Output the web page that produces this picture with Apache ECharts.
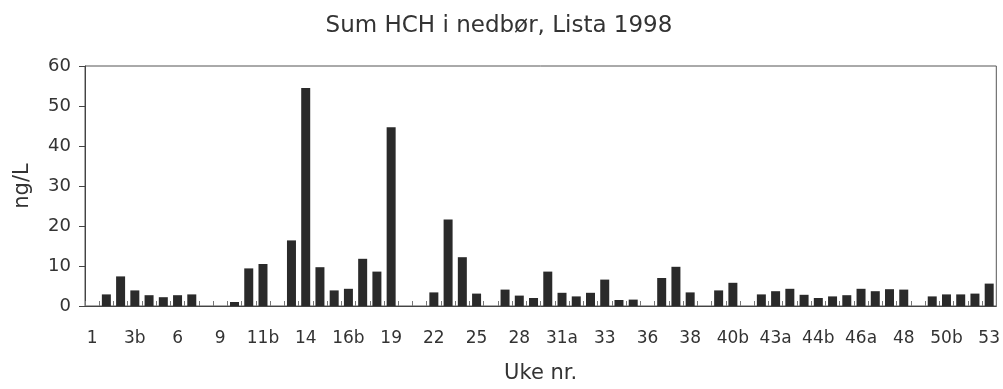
<!DOCTYPE html>
<html>
<head>
<meta charset="utf-8">
<script src="https://cdn.jsdelivr.net/npm/echarts@6/dist/echarts.min.js"></script>
<style>
html,body{margin:0;padding:0;background:#fff;}
#chart{width:1003px;height:389px;}
</style>
</head>
<body>
<div id="chart"></div>
<script>
const titleText = 'Sum HCH i nedbør, Lista 1998';
const yAxisName = 'ng/L';
const xAxisName = 'Uke nr.';
const weeks = ['1','2','3a','3b','4','5','6','7','8','9','10','11a','11b','12','13','14','15','16a','16b','17','18','19','20','21','22','23','24','25','26','27','28','29','30','31a','31b','32','33','34','35','36','37a','37b','38','39','40a','40b','41','42','43a','43b','44a','44b','45a','45b','46a','46b','47','48','49','50a','50b','51','52','53'];
const hchValues = [null,2.9,7.4,3.9,2.7,2.2,2.7,2.9,null,null,1.0,9.4,10.5,null,16.4,54.5,9.7,3.9,4.3,11.8,8.6,44.7,null,null,3.4,21.6,12.2,3.1,null,4.1,2.6,2.0,8.6,3.3,2.4,3.3,6.6,1.5,1.6,null,7.0,9.8,3.4,null,3.9,5.8,null,2.9,3.7,4.3,2.8,2.0,2.4,2.7,4.3,3.7,4.2,4.1,null,2.4,2.9,2.9,3.1,5.6];
const yTicks = [0,10,20,30,40,50,60];

const chart = echarts.init(document.getElementById('chart'), null, {renderer:'canvas'});
const font = 'DejaVu Sans';
chart.setOption({
  animation:false,
  backgroundColor:'#ffffff',
  title:{
    text:titleText,
    left:494, top:10, textAlign:'center',
    textStyle:{fontFamily:font,fontSize:23,fontWeight:'normal',color:'#333'}
  },
  grid:{left:85,right:6,top:66,bottom:79,show:true,borderColor:'#555',borderWidth:1,backgroundColor:'transparent'},
  xAxis:{
    type:'category',
    data:weeks,
    boundaryGap:true,
    name:xAxisName,
    nameLocation:'middle',
    nameGap:57,
    nameTextStyle:{fontFamily:font,fontSize:21,color:'#333'},
    axisLine:{show:true,lineStyle:{color:'#444',width:1}},
    axisTick:{show:true,inside:true,length:5,interval:0,lineStyle:{color:'#777'}},
    axisLabel:{interval:2,margin:24,fontFamily:font,fontSize:17,color:'#333'},
    splitLine:{show:false}
  },
  yAxis:{
    type:'value',
    min:yTicks[0], max:yTicks[yTicks.length-1], interval:10,
    name:yAxisName,
    nameLocation:'middle',
    nameGap:52,
    nameTextStyle:{fontFamily:font,fontSize:21,color:'#333'},
    axisLine:{show:true,lineStyle:{color:'#444',width:1}},
    axisTick:{show:true,inside:false,length:6,lineStyle:{color:'#444'}},
    axisLabel:{margin:14,fontFamily:font,fontSize:18,color:'#333'},
    splitLine:{show:false}
  },
  series:[{
    type:'bar',
    data:hchValues,
    barWidth:9,
    itemStyle:{color:'#2a2a2a'}
  }]
});
</script>
</body>
</html>
